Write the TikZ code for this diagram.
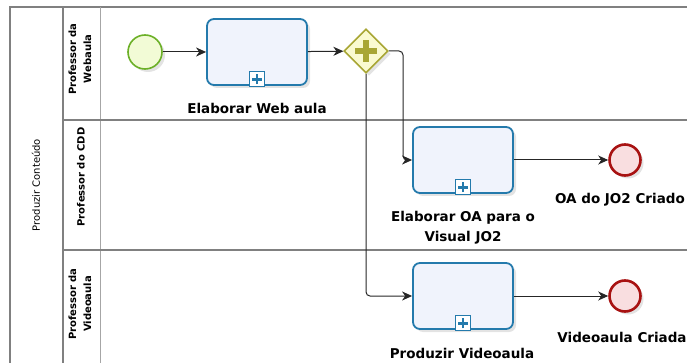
\documentclass[tikz,border=0pt]{standalone}
\usepackage{fontspec}
\setmainfont{DejaVu Sans}
\usetikzlibrary{arrows.meta,shadows,shapes.geometric}
\definecolor{taskblue}{RGB}{36,122,172}
\definecolor{taskfill}{RGB}{240,243,252}
\definecolor{gwline}{RGB}{168,166,52}
\definecolor{gwfill}{RGB}{250,250,208}
\definecolor{startline}{RGB}{108,176,40}
\definecolor{startfill}{RGB}{242,251,214}
\definecolor{endline}{RGB}{168,18,18}
\definecolor{endfill}{RGB}{249,222,224}
\definecolor{poolgray}{RGB}{128,128,128}
\begin{document}
\begin{tikzpicture}[x=1pt,y=-1pt,
  poolline/.style={draw=poolgray, line width=1.3pt},
  laneline/.style={draw=poolgray!70, line width=0.9pt},
  sh/.style={drop shadow={opacity=0.22, shadow xshift=3pt, shadow yshift=-3pt}},
  bpmntask/.style={draw=taskblue, line width=1.8pt, rounded corners=7pt, fill=taskfill,
    minimum width=100pt, minimum height=66pt, inner sep=0pt, sh},
  gateway/.style={diamond, draw=gwline, line width=1.6pt, fill=gwfill, minimum size=44pt,
    inner sep=0pt, sh},
  startev/.style={circle, draw=startline, line width=1.6pt, fill=startfill, minimum size=34pt,
    inner sep=0pt, sh},
  endev/.style={circle, draw=endline, line width=2.6pt, fill=endfill, minimum size=31pt,
    inner sep=0pt, sh},
  flow/.style={draw=black!85, line width=1pt, rounded corners=4pt,
    -{Stealth[length=10pt,width=9pt,inset=3pt]}},
  lbl/.style={font=\fontsize{13.5}{20}\selectfont\bfseries, align=center, inner sep=0pt},
  lanelbl/.style={rotate=90, font=\fontsize{10}{15}\selectfont\bfseries, align=center, inner sep=0pt},
  poollbl/.style={rotate=90, font=\fontsize{10}{11}\selectfont, inner sep=0pt},
  marker/.style={draw=taskblue, line width=1.3pt, fill=white, minimum size=15pt, inner sep=0pt},
]
\useasboundingbox (0,0) rectangle (687,363);
% pool and lanes
\draw[poolline] (10,363) -- (10,7) -- (687,7);
\draw[poolline] (63,7) -- (63,363);
\draw[laneline] (100,7) -- (100,363);
\draw[poolline] (63,120) -- (687,120);
\draw[poolline] (63,250) -- (687,250);
\node[poollbl] (pool) at (36,185) {Produzir Conteúdo};
\node[lanelbl] (lane1) at (80,59) {Professor da\\Webaula};
\node[lanelbl] (lane2) at (81,177) {Professor do CDD};
\node[lanelbl] (lane3) at (80,304) {Professor da\\Videoaula};

% elements
\node[startev] (start) at (145,52) {};
\node[bpmntask] (t1) at (257,52) {};
\node[gateway] (gw) at (366,51) {};
\node[bpmntask] (t2) at (463,160) {};
\node[bpmntask] (t3) at (463,296) {};
\node[endev] (e2) at (625,160) {};
\node[endev] (e3) at (625,296) {};

% gateway plus
\draw[gwline, line width=6pt] ([yshift=-11pt]gw.center) -- ([yshift=11pt]gw.center)
  ([xshift=-11pt]gw.center) -- ([xshift=11pt]gw.center);

% subprocess markers
\foreach \t in {t1,t2,t3}{
  \node[marker, anchor=south] (m\t) at ([yshift=-1.5pt]\t.south) {};
  \draw[taskblue, line width=2.6pt] ([yshift=-5pt]m\t.center) -- ([yshift=5pt]m\t.center)
    ([xshift=-5pt]m\t.center) -- ([xshift=5pt]m\t.center);
}

% labels
\node[lbl] (l1) at (257,108) {Elaborar Web aula};
\node[lbl] (l2) at (463,228) {Elaborar OA para o\\Visual JO2};
\node[lbl] (l3) at (462,353) {Produzir Videoaula};
\node[lbl, anchor=east] (l4) at (685,200) {OA do JO2 Criado};
\node[lbl] (l5) at (622,337) {Videoaula Criada};

% flows
\draw[flow] (start) -- (t1);
\draw[flow] (t1) -- (gw);
\draw[flow] (gw.east) -- (403,51) -- (403,160) -- (t2.west);
\draw[flow] (gw.south) -- (366,296) -- (t3.west);
\draw[flow] (t2) -- (e2);
\draw[flow] (t3) -- (e3);
\end{tikzpicture}
\end{document}
